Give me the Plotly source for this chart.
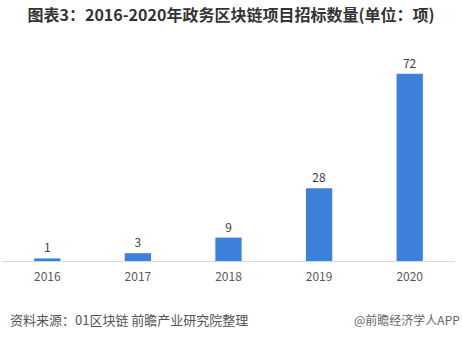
import plotly.graph_objects as go

# Government blockchain project tenders per year
years = ["2016", "2017", "2018", "2019", "2020"]
counts = [1, 3, 9, 28, 72]

title_text = "图表3：2016-2020年政务区块链项目招标数量(单位：项)"
source_text = "资料来源：01区块链 前瞻产业研究院整理"
brand_text = "@前瞻经济学人APP"

W, H = 462, 339
m_l, m_r, m_t, m_b = 2, 7, 40, 78
plot_h = H - m_t - m_b

def py(y_px):
    # pixel row -> paper y coordinate
    return (H - m_b - y_px) / plot_h

def px(x_px):
    return (x_px - m_l) / (W - m_l - m_r)

fig = go.Figure(
    go.Bar(
        x=years,
        y=counts,
        marker=dict(color="#3C80DB", line=dict(width=0)),
        width=0.29,
        text=[str(c) for c in counts],
        textposition="outside",
        textfont=dict(size=12, color="#404040", family="Noto Sans CJK SC, sans-serif"),
        cliponaxis=False,
    )
)

fig.update_layout(
    width=W,
    height=H,
    margin=dict(l=m_l, r=m_r, t=m_t, b=m_b),
    paper_bgcolor="white",
    plot_bgcolor="white",
    showlegend=False,
    font=dict(family="Noto Sans CJK SC, sans-serif"),
    title=dict(
        text=title_text,
        x=0.5,
        xanchor="center",
        y=1 - 15 / H,
        yanchor="middle",
        font=dict(size=16, color="#333333", family="Noto Sans CJK SC, sans-serif", weight="bold"),
    ),
    xaxis=dict(
        showline=True,
        linecolor="#D9D9D9",
        linewidth=1,
        ticks="",
        ticklabelstandoff=5,
        showgrid=False,
        tickfont=dict(size=12, color="#595959", family="Noto Sans CJK SC, sans-serif"),
    ),
    yaxis=dict(
        range=[0, plot_h / 2.6],
        visible=False,
        showgrid=False,
        zeroline=False,
    ),
    bargap=0.71,
)

fig.add_annotation(
    text=source_text, xref="paper", yref="paper",
    x=px(8), y=py(319), xanchor="left", yanchor="middle", showarrow=False,
    font=dict(size=13, color="#555555", family="Noto Sans CJK SC, sans-serif"),
)
fig.add_annotation(
    text=brand_text, xref="paper", yref="paper",
    x=px(462), y=py(319), xanchor="right", yanchor="middle", showarrow=False,
    font=dict(size=12, color="#666666", family="Noto Sans CJK SC, sans-serif"),
)

fig.write_html("out.html")
